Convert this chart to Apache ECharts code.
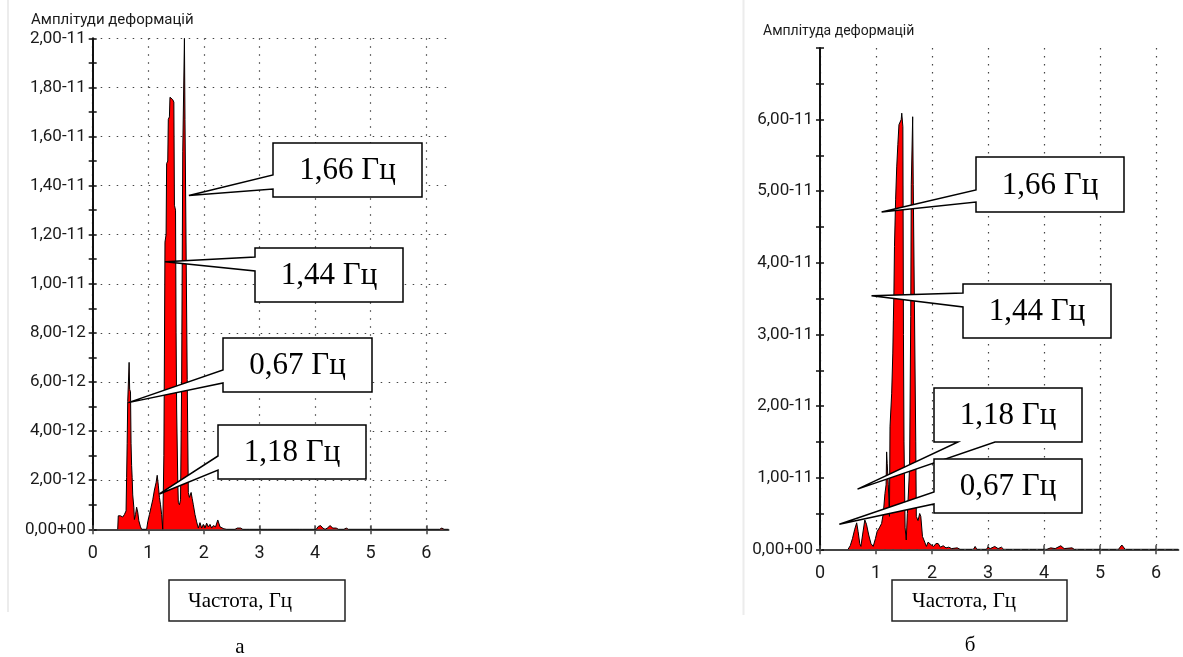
<!DOCTYPE html>
<html>
<head>
<meta charset="utf-8">
<script src="https://cdn.jsdelivr.net/npm/echarts@6.0.0/dist/echarts.min.js"></script>
<style>
html, body { margin: 0; padding: 0; background: #fff; }
#main { width: 1183px; height: 657px; }
</style>
</head>
<body>
<div id="main"></div>
<script>
// спектр (а): частота, Гц та амплітуда в одиницях 1e-12
const freqA = [0.45, 0.46, 0.50, 0.54, 0.57, 0.60, 0.61, 0.62, 0.63, 0.645, 0.655, 0.665, 0.68, 0.69, 0.70, 0.71, 0.72, 0.74, 0.75, 0.77,
  0.79, 0.81, 0.83, 0.86, 0.88, 0.97, 0.99, 1.02, 1.05, 1.08, 1.11, 1.14, 1.16, 1.18, 1.20, 1.22, 1.24, 1.26, 1.28, 1.29,
  1.30, 1.32, 1.33, 1.35, 1.36, 1.38, 1.39, 1.42, 1.44, 1.46, 1.47, 1.49, 1.50, 1.51, 1.53, 1.54, 1.56, 1.58, 1.60, 1.62,
  1.64, 1.65, 1.66, 1.69, 1.70, 1.72, 1.74, 1.77, 1.79, 1.81, 1.84, 1.87, 1.90, 1.93, 1.96, 1.99, 2.02, 2.05, 2.08, 2.11,
  2.14, 2.17, 2.21, 2.25, 2.29, 2.32, 2.36, 2.41, 2.56, 2.60, 2.66, 2.70, 2.76, 2.79, 2.82, 3.08, 3.11, 3.14, 3.55, 3.58,
  3.62, 3.72, 3.75, 3.78, 4.02, 4.06, 4.10, 4.14, 4.18, 4.22, 4.27, 4.32, 4.38, 4.42, 4.52, 4.56, 4.60, 6.24, 6.28, 6.32, 6.4]
const ampA = [0, 0.55, 0.55, 0.50, 0.60, 0.75, 2.1, 3.5, 5.2, 5.2, 6.8, 5.7, 5.6, 3.5, 2.6, 2.1, 1.4, 0.9, 0.4, 0.6,
  0.9, 0.7, 0.35, 0.1, 0, 0, 0.3, 0.6, 0.9, 1.2, 1.6, 1.9, 2.2, 1.8, 1.3, 1.0, 0.6, 0, 3.0, 7.1,
  11.7, 12.0, 14.9, 15.0, 16.7, 16.8, 17.6, 17.6, 17.5, 17.4, 13.2, 13.0, 8.0, 4.9, 2.0, 1.1, 1.0, 1.2, 6.0, 15.4,
  15.4, 20.0, 16.7, 16.7, 6.1, 1.5, 1.3, 1.5, 1.25, 1.0, 0.6, 0.3, 0.05, 0.27, 0.05, 0.2, 0.05, 0.25, 0.1, 0.2,
  0.05, 0.15, 0.1, 0.38, 0.1, 0.05, 0.02, 0, 0, 0.05, 0.05, 0, 0, 0.05, 0, 0, 0.05, 0, 0, 0.05,
  0, 0, 0.05, 0, 0, 0.12, 0.15, 0.05, 0, 0.05, 0.15, 0.05, 0.05, 0, 0, 0.05, 0, 0, 0.05, 0, 0]

// спектр (б): частота, Гц та амплітуда в одиницях 1e-11
const freqB = [0.50, 0.54, 0.58, 0.62, 0.655, 0.68, 0.71, 0.73, 0.76, 0.80, 0.83, 0.87, 0.91, 0.95, 0.99, 1.02, 1.06, 1.10, 1.13, 1.16,
  1.18, 1.19, 1.20, 1.22, 1.24, 1.25, 1.28, 1.30, 1.31, 1.32, 1.33, 1.35, 1.37, 1.39, 1.41, 1.45, 1.46, 1.48, 1.49, 1.50,
  1.52, 1.54, 1.56, 1.58, 1.60, 1.62, 1.63, 1.645, 1.655, 1.665, 1.70, 1.71, 1.72, 1.75, 1.78, 1.80, 1.83, 1.87, 1.90, 1.93,
  1.96, 1.99, 2.03, 2.07, 2.11, 2.15, 2.20, 2.25, 2.30, 2.35, 2.45, 2.50, 2.74, 2.77, 2.80, 2.97, 3.00, 3.04, 3.12, 3.18,
  3.24, 3.28, 3.38, 3.41, 3.44, 3.74, 3.77, 3.80, 3.98, 4.01, 4.05, 4.12, 4.20, 4.30, 4.36, 4.50, 4.54, 5.33, 5.39, 5.45, 6.4]
const ampB = [0, 0.05, 0.15, 0.28, 0.37, 0.25, 0.08, 0.04, 0.2, 0.41, 0.35, 0.2, 0.08, 0.04, 0.15, 0.25, 0.3, 0.36, 0.5, 0.78,
  0.9, 1.36, 1.2, 0.9, 0.46, 1.71, 2.18, 2.74, 3.2, 3.58, 4.23, 4.88, 5.34, 5.65, 5.93, 6.0, 6.09, 5.9, 3.0, 1.5,
  0.3, 0.13, 0.5, 0.8, 1.15, 3.25, 5.09, 5.09, 6.04, 5.09, 5.09, 1.5, 0.46, 0.4, 0.5, 0.46, 0.18, 0.1, 0.04, 0.1,
  0.11, 0.06, 0.04, 0.08, 0.08, 0.03, 0.05, 0.02, 0.03, 0.01, 0.02, 0, 0, 0.04, 0, 0, 0.03, 0.01, 0.04, 0.01,
  0.03, 0, 0, 0.02, 0, 0, 0.02, 0, 0, 0.02, 0, 0.02, 0.01, 0.05, 0.01, 0.02, 0, 0, 0.06, 0, 0]

const xTicks = [0, 1, 2, 3, 4, 5, 6]
const gridLinesB = [1e-11, 2e-11, 3e-11, 4e-11, 5e-11, 6e-11]

const labelsA = ['1,66 Гц', '1,44 Гц', '0,67 Гц', '1,18 Гц']
const anchorsA = [[1.73, 13.6e-12], [1.30, 10.9e-12], [0.64, 5.16e-12], [1.20, 1.44e-12]]
const labelsB = ['1,66 Гц', '1,44 Гц', '1,18 Гц', '0,67 Гц']
const anchorsB = [[1.10, 4.71e-11], [0.92, 3.54e-11], [0.67, 0.84e-11], [0.345, 0.35e-11]]

// розміщення виносок: [x, y, w, h], бік, точки основи клина
const boxesA = [
  { rect: [273, 143, 149, 54], side: 'left', base: [175, 189] },
  { rect: [255, 248, 148, 54], side: 'left', base: [257, 271] },
  { rect: [223, 338, 149, 54], side: 'left', base: [370, 383] },
  { rect: [218, 425, 148, 54], side: 'left', base: [456, 470] }
]
const boxesB = [
  { rect: [976, 157, 148, 55], side: 'left', base: [190, 202] },
  { rect: [963, 284, 148, 54], side: 'left', base: [293, 307] },
  { rect: [934, 388, 148, 54], side: 'bottom', base: [958, 995] },
  { rect: [934, 459, 148, 54], side: 'left', base: [492, 504] }
]

const FONT = 'Roboto'
const SERIF = 'Liberation Serif'
const dotted = { color: '#444', type: [1.5, 6.5], width: 1.2 }

function sciLabel (v) {
  if (v === 0) return '0,00+00'
  const e = Math.floor(Math.log10(Math.abs(v)) + 1e-9)
  const m = v / Math.pow(10, e)
  return m.toFixed(2).replace('.', ',') + (e < 0 ? '-' : '+') + String(Math.abs(e)).padStart(2, '0')
}

function xAxes (grid) {
  const base = { type: 'value', gridIndex: grid, min: 0, max: 6.4, interval: 1, position: 'bottom' }
  return [
    {
      ...base,
      axisLine: { show: true, lineStyle: { color: '#444', width: 2 } },
      axisTick: { show: true, customValues: xTicks, length: 5, lineStyle: { color: '#444', width: 1.5 } },
      axisLabel: { customValues: xTicks, margin: 15, fontSize: 18, fontFamily: FONT, color: '#1a1a1a' },
      splitLine: { show: true, lineStyle: dotted }
    },
    {
      ...base,
      axisLine: { show: false },
      axisLabel: { show: false },
      splitLine: { show: false },
      axisTick: { show: true, inside: true, customValues: xTicks, length: 4, lineStyle: { color: '#444', width: 1.5 } }
    }
  ]
}

function yAxes (grid, max, interval, showGrid) {
  const base = { type: 'value', gridIndex: grid, min: 0, max: max, interval: interval, position: 'left' }
  const tick = { color: '#111', width: 1.5 }
  return [
    {
      ...base,
      axisLine: { show: true, lineStyle: { color: '#111', width: 2 } },
      axisTick: { show: true, length: 4, lineStyle: tick },
      minorTick: { show: true, splitNumber: 2, length: 4, lineStyle: tick },
      axisLabel: { formatter: sciLabel, margin: 7, fontSize: 17, fontFamily: FONT, color: '#1a1a1a', showMaxLabel: showGrid },
      splitLine: { show: showGrid, lineStyle: dotted }
    },
    {
      ...base,
      axisLine: { show: false },
      axisLabel: { show: false },
      splitLine: { show: false },
      axisTick: { show: true, inside: true, length: 4, lineStyle: tick },
      minorTick: { show: true, splitNumber: 2, length: 4, lineStyle: tick }
    }
  ]
}

function spectrum (freq, amp, unit, axisIndex) {
  return {
    type: 'line',
    xAxisIndex: axisIndex,
    yAxisIndex: axisIndex,
    data: freq.map((f, i) => [f, amp[i] * unit]),
    symbol: 'none',
    lineStyle: { color: '#000', width: 1 },
    areaStyle: { color: '#ff0000', opacity: 1 },
    z: 3
  }
}

const chart = echarts.init(document.getElementById('main'), null, { renderer: 'canvas' })

const option = {
  animation: false,
  backgroundColor: '#fff',
  grid: [
    { left: 92.7, top: 38.3, width: 355.8, height: 491, containLabel: false },
    { left: 820, top: 48, width: 358.4, height: 501.3, containLabel: false }
  ],
  xAxis: [...xAxes(0), ...xAxes(1)],
  yAxis: [...yAxes(0, 2e-11, 2e-12, true), ...yAxes(1, 7e-11, 1e-11, false)],
  series: [
    {
      type: 'line',
      xAxisIndex: 2,
      yAxisIndex: 2,
      data: [],
      z: 1,
      markLine: {
        silent: true,
        symbol: 'none',
        label: { show: false },
        lineStyle: dotted,
        data: gridLinesB.map(v => ({ yAxis: v }))
      }
    },
    spectrum(freqA, ampA, 1e-12, 0),
    spectrum(freqB, ampB, 1e-11, 2)
  ]
}
chart.setOption(option)

function callout (box, tip, label) {
  const [x, y, w, h] = box.rect
  const [b1, b2] = box.base
  let pts
  if (box.side === 'left') {
    pts = [[x, y], [x + w, y], [x + w, y + h], [x, y + h], [x, b2], tip, [x, b1]]
  } else {
    pts = [[x, y], [x + w, y], [x + w, y + h], [b2, y + h], tip, [b1, y + h], [x, y + h]]
  }
  return [
    {
      type: 'polygon',
      shape: { points: pts },
      style: { fill: '#fff', stroke: '#000', lineWidth: 1.5 },
      z: 100
    },
    {
      type: 'text',
      x: x + w / 2,
      y: y + h / 2 + 1,
      style: {
        text: label,
        font: '31px "' + SERIF + '"',
        fill: '#000',
        align: 'center',
        verticalAlign: 'middle',
        textAlign: 'center',
        textVerticalAlign: 'middle'
      },
      z: 101
    }
  ]
}

const graphics = []
// рамки панелей
graphics.push({ type: 'line', shape: { x1: 8, y1: 0, x2: 8, y2: 612 }, style: { stroke: '#ececec', lineWidth: 2 }, z: 0 })
graphics.push({ type: 'line', shape: { x1: 743.5, y1: 0, x2: 743.5, y2: 615 }, style: { stroke: '#ececec', lineWidth: 2 }, z: 0 })

labelsA.forEach((lab, i) => {
  const tip = chart.convertToPixel({ xAxisIndex: 0, yAxisIndex: 0 }, anchorsA[i])
  graphics.push(...callout(boxesA[i], tip, lab))
})
labelsB.forEach((lab, i) => {
  const tip = chart.convertToPixel({ xAxisIndex: 2, yAxisIndex: 2 }, anchorsB[i])
  graphics.push(...callout(boxesB[i], tip, lab))
})

// назви осей
graphics.push({ type: 'text', x: 31, y: 20, style: { text: 'Амплітуди деформацій', font: '15px ' + FONT, fill: '#1a1a1a', verticalAlign: 'middle', textVerticalAlign: 'middle' }, z: 10 })
graphics.push({ type: 'text', x: 763, y: 31, style: { text: 'Амплітуда деформацій', font: '14px ' + FONT, fill: '#1a1a1a', verticalAlign: 'middle', textVerticalAlign: 'middle' }, z: 10 })

// підписи осі частот
const freqBoxes = [[169, 580, 176, 41, 188], [892, 580, 175, 41, 912]]
freqBoxes.forEach(b => {
  graphics.push({ type: 'rect', shape: { x: b[0], y: b[1], width: b[2], height: b[3] }, style: { fill: '#fff', stroke: '#222', lineWidth: 1.5 }, z: 10 })
  graphics.push({ type: 'text', x: b[4], y: b[1] + b[3] / 2 + 1, style: { text: 'Частота, Гц', font: '21px "' + SERIF + '"', fill: '#000', verticalAlign: 'middle', textVerticalAlign: 'middle' }, z: 11 })
})

graphics.push({ type: 'text', x: 240, y: 647, style: { text: 'а', font: '21px "' + SERIF + '"', fill: '#000', align: 'center', verticalAlign: 'middle', textAlign: 'center', textVerticalAlign: 'middle' }, z: 10 })
graphics.push({ type: 'text', x: 970, y: 645, style: { text: 'б', font: '21px "' + SERIF + '"', fill: '#000', align: 'center', verticalAlign: 'middle', textAlign: 'center', textVerticalAlign: 'middle' }, z: 10 })

chart.setOption({ graphic: graphics })
</script>
</body>
</html>
